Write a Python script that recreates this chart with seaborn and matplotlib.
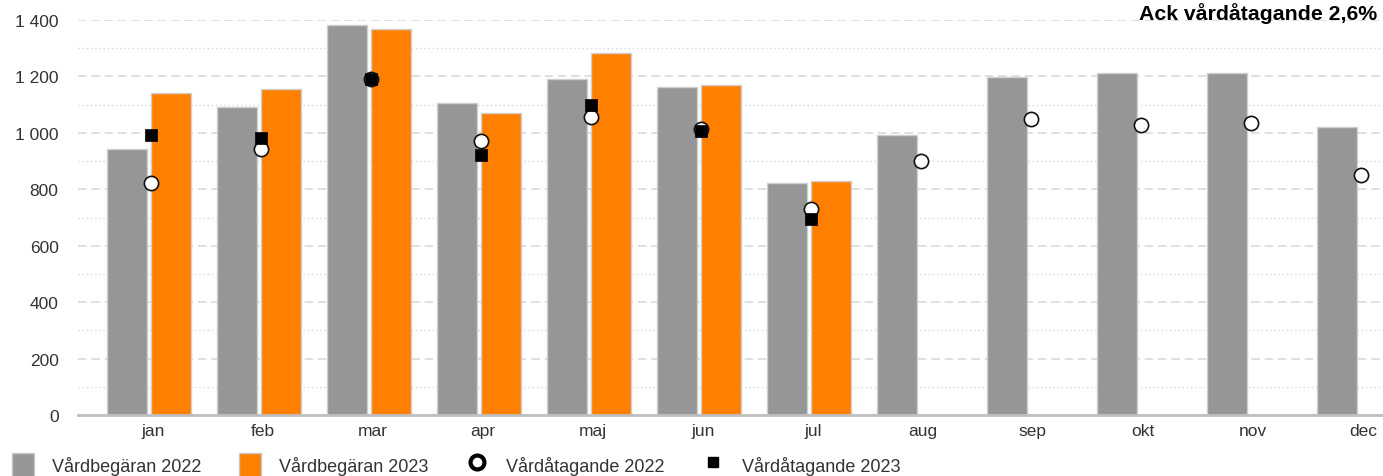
import numpy as np
import pandas as pd
import matplotlib
matplotlib.use("Agg")
import matplotlib.pyplot as plt
import matplotlib.transforms as mtransforms
from matplotlib.patches import Patch
from matplotlib.lines import Line2D
from matplotlib.ticker import MultipleLocator, FuncFormatter
import seaborn as sns

months = ["jan", "feb", "mar", "apr", "maj", "jun", "jul", "aug", "sep", "okt", "nov", "dec"]
begaran_2022 = [943, 1092, 1383, 1106, 1191, 1163, 823, 993, 1199, 1213, 1213, 1021]
begaran_2023 = [1142, 1156, 1369, 1071, 1284, 1170, 830, np.nan, np.nan, np.nan, np.nan, np.nan]
atagande_2022 = [823, 943, 1191, 972, 1057, 1014, 730, 901, 1050, 1028, 1035, 851]
atagande_2023 = [993, 982, 1191, 922, 1099, 1007, 695, np.nan, np.nan, np.nan, np.nan, np.nan]
label_2022 = "Vårdbegäran 2022"
label_2023 = "Vårdbegäran 2023"
label_a22 = "Vårdåtagande 2022"
label_a23 = "Vårdåtagande 2023"
note_text = "Ack vårdåtagande 2,6%"

sns.set_theme(style="white")
plt.rcParams["font.family"] = ["Liberation Sans", "DejaVu Sans"]

GRAY = "#969696"
ORANGE = "#FF8000"
TXT = "#333333"

df = pd.DataFrame({
    "month": months * 2,
    "value": begaran_2022 + begaran_2023,
    "series": [label_2022] * len(months) + [label_2023] * len(months),
})

fig = plt.figure(figsize=(13.83, 4.77), dpi=100)
ax = fig.add_axes([78 / 1383, 1 - 416 / 477, 1 - 78 / 1383, (416 - 21) / 477])

sns.barplot(data=df, x="month", y="value", hue="series", order=months,
            hue_order=[label_2022, label_2023], palette=[GRAY, ORANGE],
            saturation=1, width=0.8, gap=0.09, edgecolor="#cfcfcf", linewidth=1.0,
            legend=False, ax=ax, zorder=2)

pos = np.arange(len(months)) + 0.02
sns.scatterplot(x=pos, y=atagande_2022, marker="o", s=105, color="white",
                edgecolor="#111111", linewidth=1.2, ax=ax, zorder=4, clip_on=False)
sns.scatterplot(x=pos, y=atagande_2023, marker="s", s=72, color="black",
                edgecolor="black", linewidth=0.5, ax=ax, zorder=5, clip_on=False)

ax.set_xlim(-0.645, 11.22)
ax.set_ylim(0, 1400)
ax.yaxis.set_major_locator(MultipleLocator(200))
ax.yaxis.set_minor_locator(MultipleLocator(100))
ax.yaxis.set_major_formatter(FuncFormatter(lambda v, p: f"{int(v):,}".replace(",", " ")))
ax.grid(True, which="major", axis="y", color="#d9d9d9", linestyle=(0, (5, 3)), linewidth=1.2, zorder=0)
ax.grid(True, which="minor", axis="y", color="#d9d9d9", linestyle=(0, (1, 2)), linewidth=1.0, zorder=0)
ax.set_axisbelow(True)
for s in ["top", "right", "left"]:
    ax.spines[s].set_visible(False)
ax.spines["bottom"].set_color("#bfbfbf")
ax.spines["bottom"].set_linewidth(2)
ax.tick_params(axis="y", which="both", length=0, labelsize=12.5, labelcolor=TXT, pad=14)
ax.tick_params(axis="x", length=0, labelsize=12.5, labelcolor=TXT, pad=6)
shift = mtransforms.ScaledTranslation(4 / 100, 0, fig.dpi_scale_trans)
for lbl in ax.get_xticklabels():
    lbl.set_transform(lbl.get_transform() + shift)
ax.set_xlabel("")
ax.set_ylabel("")

fig.text(1377 / 1383, 1 - 14 / 477, note_text, ha="right", va="center",
         fontsize=15.3, fontweight="bold", color="black")

handles = [
    Patch(facecolor=GRAY, edgecolor="#c8c8c8", label=label_2022),
    Patch(facecolor=ORANGE, edgecolor="#c8c8c8", label=label_2023),
    Line2D([], [], marker="o", linestyle="none", markersize=10, markerfacecolor="white",
           markeredgecolor="black", markeredgewidth=3, label=label_a22),
    Line2D([], [], marker="s", linestyle="none", markersize=7, markerfacecolor="black",
           markeredgecolor="black", label=label_a23),
]
leg = fig.legend(handles=handles, loc="lower left", bbox_to_anchor=(0.001, -0.025), ncol=4,
                 frameon=False, fontsize=13, handlelength=1.2, handleheight=1.7,
                 handletextpad=1.0, columnspacing=2.1, borderaxespad=0.2)
for t in leg.get_texts():
    t.set_color(TXT)

fig.savefig("out.png", dpi=100)
